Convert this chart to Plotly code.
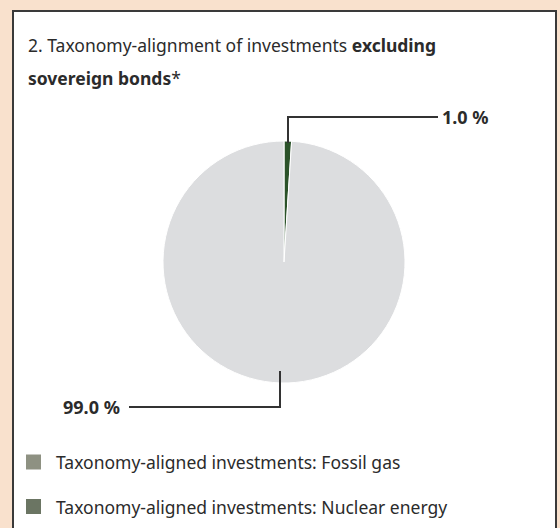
import plotly.graph_objects as go

W, H = 560, 528
labels = ["Taxonomy-aligned", "Other investments"]
values = [1.0, 99.0]
slice_colors = ["#2b5229", "#dcdddf"]
value_text = ["1.0 %", "99.0 %"]
legend_labels = ["Taxonomy-aligned investments: Fossil gas",
                 "Taxonomy-aligned investments: Nuclear energy"]
legend_colors = ["#8e9182", "#6b7563"]

FONT = "Noto Sans"
TXT = "#2b2b2b"
BG = "#f9e1cd"

def px(x):
    return x / W

def py(y):
    return 1 - y / H

fig = go.Figure()
fig.add_trace(go.Pie(
    labels=labels, values=values, sort=False, direction="clockwise", rotation=0,
    marker=dict(colors=slice_colors, line=dict(color="white", width=1)),
    textinfo="none", hoverinfo="label+percent", showlegend=False,
    domain=dict(x=[px(163), px(405)], y=[py(383), py(141)]),
))

shapes = [
    dict(type="rect", xref="paper", yref="paper", x0=px(13), x1=px(556), y0=py(540), y1=py(11),
         line=dict(color="#3a3a3a", width=2), fillcolor="white", layer="below"),
    dict(type="path", xref="paper", yref="paper",
         path=f"M {px(288)},{py(143)} L {px(288)},{py(117)} L {px(438)},{py(117)}",
         line=dict(color="#333333", width=2)),
    dict(type="path", xref="paper", yref="paper",
         path=f"M {px(280)},{py(371)} L {px(280)},{py(407)} L {px(129)},{py(407)}",
         line=dict(color="#333333", width=2)),
]
annotations = [
    dict(text="2. Taxonomy-alignment of investments <b>excluding</b>", x=px(26), y=py(45),
         xanchor="left", yanchor="middle", showarrow=False, font=dict(size=17.5, color=TXT, family=FONT)),
    dict(text="<b>sovereign bonds</b>*", x=px(26), y=py(78),
         xanchor="left", yanchor="middle", showarrow=False, font=dict(size=17.5, color=TXT, family=FONT)),
    dict(text=f"<b>{value_text[0]}</b>", x=px(440), y=py(117), xanchor="left", yanchor="middle",
         showarrow=False, font=dict(size=18, color=TXT, family=FONT)),
    dict(text=f"<b>{value_text[1]}</b>", x=px(122), y=py(407), xanchor="right", yanchor="middle",
         showarrow=False, font=dict(size=18, color=TXT, family=FONT)),
]
for i, (lab, col) in enumerate(zip(legend_labels, legend_colors)):
    cy = 462 + 44.5 * i
    shapes.append(dict(type="rect", xref="paper", yref="paper", x0=px(26), x1=px(41),
                       y0=py(cy + 7.5), y1=py(cy - 7.5), fillcolor=col, line=dict(width=0)))
    annotations.append(dict(text=lab, x=px(54), y=py(cy), xanchor="left", yanchor="middle",
                            showarrow=False, font=dict(size=17.5, color=TXT, family=FONT)))

fig.update_layout(
    width=W, height=H, margin=dict(l=0, r=0, t=0, b=0),
    paper_bgcolor=BG, plot_bgcolor=BG,
    shapes=shapes, annotations=annotations,
)
fig.write_html("out.html", config={"displayModeBar": False},
               post_script=f"document.body.style.margin='0';document.body.style.background='{BG}';")
